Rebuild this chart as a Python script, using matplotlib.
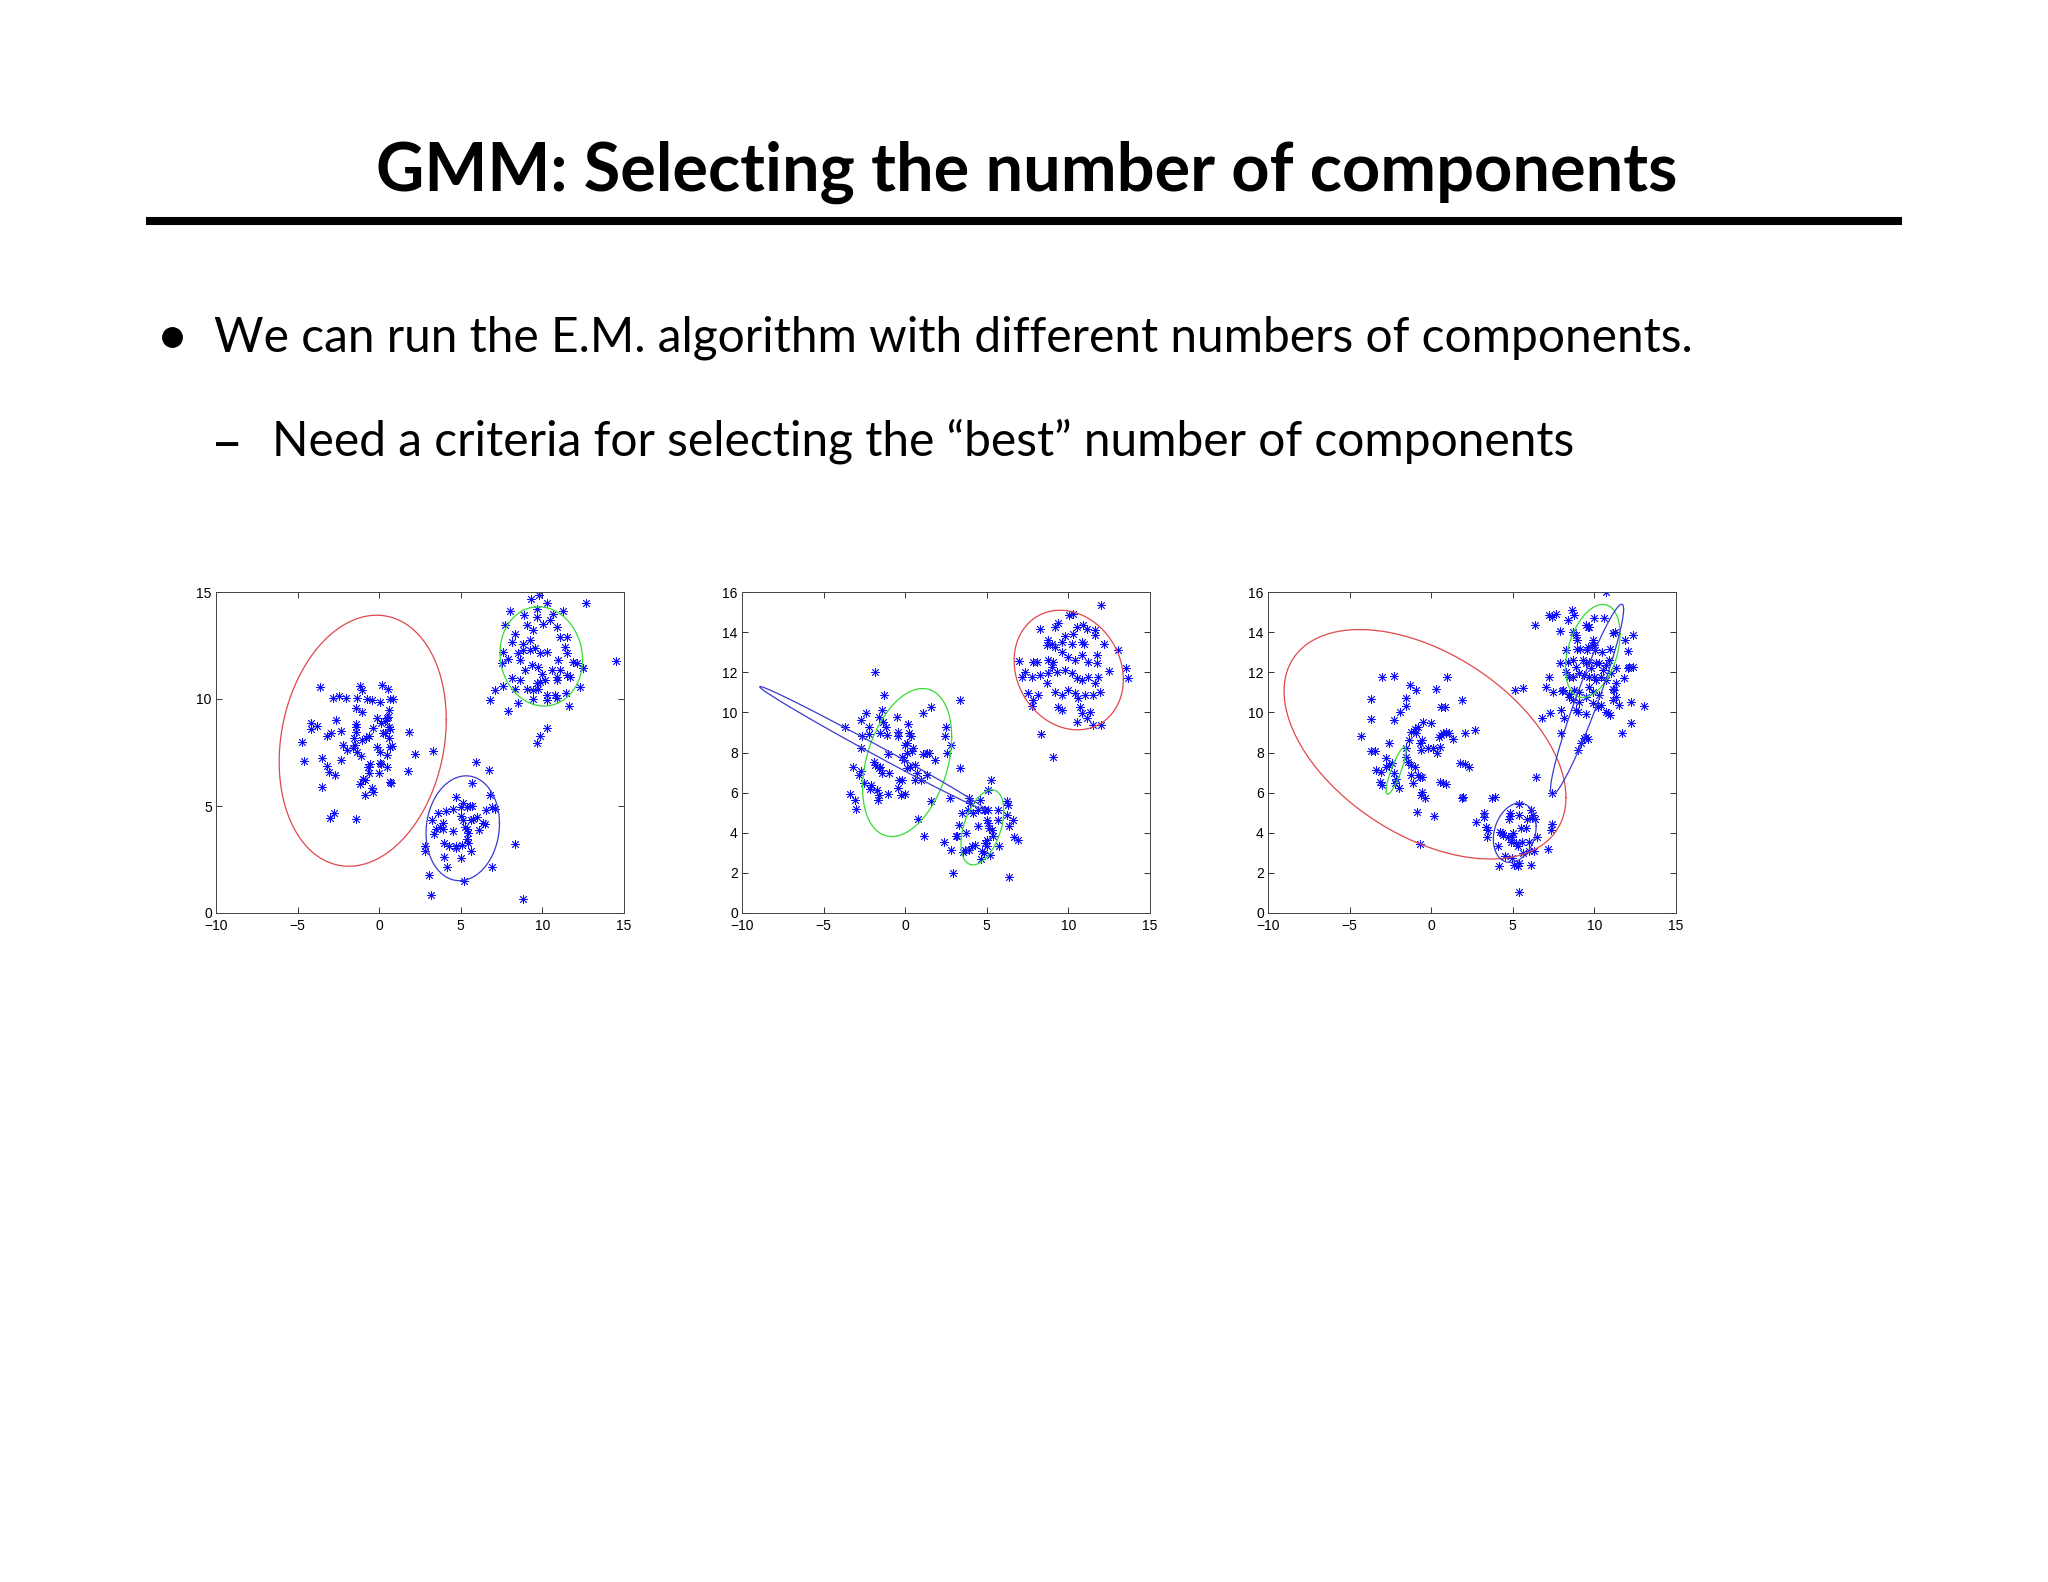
import numpy as np
import matplotlib
matplotlib.use('Agg')
import matplotlib.pyplot as plt

# ---------- texto de la diapositiva ----------
title = 'GMM: Selecting the number of components'
bullet_1 = 'We can run the E.M. algorithm with different numbers of components.'
bullet_2 = 'Need a criteria for selecting the \u201cbest\u201d number of components'

# ---------- panel 1 (k = 3) ----------
p1_x = [-3.63, -4.71, -4.61, -4.18, -3.83, -4.2, -3.53, -3.5, -3.2, -2.93, -3.18, -3.05, -2.69,
        -2.83, -2.44, -2.03, -2.65, -2.34, -2.34, -2.2, -2.0, -1.58, -1.54, -3.02, -2.77, -1.42,
        -1.18, -1.04, -1.38, -1.05, -1.42, -1.44, -1.44, -1.42, -0.77, -0.46, -1.48, -1.38, -1.12,
        -0.97, -0.87, -1.18, -0.87, -0.42, -0.4, -1.03, -0.81, -0.6, -0.4, -0.56, -0.67, -0.62,
        0.0, -0.16, 0.05, 0.05, 0.09, 0.05, 0.19, 0.52, 0.66, 0.58, 0.54, 0.5, 0.35, 0.09, -0.11,
        0.25, 0.36, 0.62, 0.66, 0.5, 0.58, 0.66, 0.8, 0.66, 0.74, 0.46, 0.85, 1.85, 1.74, 2.21, 3.28,
        # grupo inferior
        2.81, 2.81, 3.03, 3.17, 3.26, 3.38, 3.46, 3.62, 3.72, 3.88, 3.92, 4.08, 4.0, 4.26, 4.7,
        4.68, 5.09, 5.01, 5.62, 4.0, 4.17, 4.54, 4.68, 5.0, 5.11, 5.36, 5.56, 5.66, 4.54, 5.0,
        5.15, 5.26, 5.4, 5.6, 5.77, 6.01, 6.14, 6.38, 6.46, 5.36, 5.46, 5.46, 5.69, 5.91, 6.75,
        6.79, 6.89, 7.1, 6.52, 6.91, 5.2, 8.32, 8.79,
        # grupo superior derecho
        9.81, 9.28, 9.69, 10.3, 11.28, 12.65, 8.01, 7.73, 8.89, 8.32, 8.12, 7.61, 7.91, 7.5,
        9.04, 9.44, 9.24, 8.83, 8.83, 8.53, 8.63, 8.93, 9.34, 9.65, 10.06, 10.47, 10.67, 10.87,
        11.08, 11.48, 11.38, 11.48, 10.98, 11.89, 12.1, 12.5, 11.69, 11.48, 11.08, 10.57, 10.87,
        9.24, 9.55, 9.85, 10.26, 9.75, 9.95, 10.16, 9.65, 9.44, 9.75, 10.26, 10.77, 10.87, 9.85,
        8.12, 8.32, 8.63, 9.04, 7.61, 7.1, 6.79, 8.53, 7.91, 9.44, 10.26, 10.87, 11.45, 11.65,
        12.3, 12.5, 14.49, 10.3, 9.85, 9.65]
p1_y = [10.54, 8.0, 7.1, 8.9, 8.74, 8.6, 7.26, 5.9, 8.27, 8.43, 6.87, 6.6, 6.43,
        10.07, 10.12, 10.04, 9.0, 8.49, 7.13, 7.83, 7.6, 7.72, 8.18, 4.43, 4.69, 4.38,
        10.6, 10.44, 10.03, 9.4, 9.6, 8.83, 8.7, 8.45, 9.98, 9.95, 7.85, 7.54, 7.34,
        6.28, 6.22, 6.02, 5.53, 5.86, 5.67, 8.08, 8.16, 8.27, 8.66, 6.95, 6.84, 6.56,
        6.53, 7.77, 7.52, 7.0, 6.96, 9.87, 10.65, 10.45, 9.98, 9.48, 9.17, 9.1, 8.97, 8.86, 9.09,
        8.43, 8.39, 8.7, 8.58, 7.37, 8.16, 7.77, 7.8, 6.14, 6.06, 6.84, 10.01, 8.46, 6.64, 7.43, 7.55,
        3.11, 2.88, 1.76, 0.85, 4.35, 3.7, 3.92, 4.66, 4.04, 4.2, 3.93, 4.77, 3.26, 3.11, 3.02,
        3.11, 3.16, 2.58, 2.88, 2.64, 2.15, 4.87, 5.44, 4.97, 5.13, 4.97, 5.02, 5.02, 3.85, 4.51,
        4.35, 4.04, 3.92, 4.35, 4.38, 4.48, 3.89, 4.2, 4.17, 3.48, 3.73, 3.26, 6.09, 7.07, 6.68,
        5.52, 4.97, 4.85, 4.82, 2.15, 1.51, 3.23, 0.65,
        14.85, 14.66, 14.21, 14.49, 14.1, 14.49, 14.1, 13.45, 13.94, 13.06, 12.67, 12.2, 11.89, 11.69,
        13.45, 13.21, 12.75, 12.59, 12.28, 12.13, 11.81, 11.35, 11.58, 13.83, 13.52, 13.68, 13.99, 13.37,
        12.9, 12.9, 12.43, 12.13, 11.81, 11.74, 11.66, 11.43, 11.04, 11.12, 11.35, 11.35, 11.04,
        12.28, 12.36, 12.13, 12.2, 11.5, 11.19, 10.88, 10.73, 10.41, 10.49, 10.18, 10.18, 10.88, 10.8,
        10.96, 10.49, 10.88, 10.49, 10.6, 10.41, 9.95, 9.82, 9.45, 10.02, 9.95, 10.06, 10.26, 9.67,
        10.54, 11.43, 11.77, 8.63, 8.27, 7.93]

# ---------- panel 2 (k = 4) ----------
p2_x = [12.0, 10.04, 10.27, 9.39, 9.18, 8.27, 9.8, 10.31, 10.51, 10.92, 11.12, 11.63, 11.63,
        8.78, 8.67, 8.98, 9.18, 9.59, 10.2, 10.82, 10.98, 12.2, 13.02,
        6.98, 7.35, 7.86, 8.06, 8.78, 9.08, 9.59, 10.0, 10.41, 10.82, 11.22, 11.73, 11.73, 12.51, 13.53, 13.67,
        7.14, 7.76, 8.27, 8.78, 8.98, 9.29, 9.8, 10.2, 10.51, 10.82, 11.22, 11.84, 11.63,
        7.55, 7.86, 8.16, 8.71, 9.18, 9.59, 10.0, 10.41, 10.61, 11.02, 11.53, 11.94,
        7.76, 9.39, 9.59, 10.71, 10.82, 11.33, 10.51, 11.12, 11.53, 12.0, 8.31, 9.08,
        # grupo central
        -1.84, -1.27, -3.67, -2.41, -2.71, -2.24, -2.2, -2.65, -2.73, -1.63, -1.43, -1.33, -1.18,
        -1.12, -1.53, -0.51, -0.45, -0.45, 0.16, 0.24, 0.37, 0.14, -1.08, 0.0, -0.2, -0.1, 0.1,
        0.41, 0.47, -3.2, -3.37, -3.06, -2.71, -2.82, -2.51, -3.02, -1.94, -1.84, -1.63, -1.53,
        -1.43, -2.1, -1.73, -2.18, -1.63, -1.08, -1.67, -1.02, -0.47, -0.27, -0.04, -0.41, -0.2,
        0.1, 0.31, 0.61, 0.71, 0.98, 0.61, 1.12, 1.33, 1.43, 1.84, 1.33, 1.59, 0.78, 1.14,
        1.12, 1.59, 2.41, 2.49, 2.55, 2.82, 2.76, 3.33, 3.33,
        # grupo inferior
        2.37, 2.78, 2.9, 3.1, 3.27, 3.16, 3.71, 3.82, 3.47, 3.88, 3.98, 4.18, 4.49, 4.59, 4.8,
        4.9, 5.1, 5.24, 5.1, 3.67, 4.08, 4.29, 4.45, 4.69, 4.9, 5.0, 5.1, 5.14, 5.31, 5.41, 5.0,
        5.04, 5.2, 4.65, 4.8, 3.88, 3.57, 5.71, 5.71, 5.76, 6.22, 6.29, 6.22, 6.33, 6.59, 6.69,
        6.94, 6.33]
p2_y = [15.34, 14.87, 14.92, 14.43, 14.26, 14.18, 13.8, 13.93, 14.26, 14.34, 14.18, 14.1, 13.85,
        13.6, 13.35, 13.43, 13.27, 13.52, 13.43, 13.52, 13.43, 13.43, 13.1,
        12.55, 12.02, 12.52, 12.52, 12.6, 12.52, 13.02, 12.77, 12.6, 12.85, 12.52, 12.85, 12.44, 12.07, 12.19, 11.69,
        11.78, 11.78, 11.86, 11.94, 12.27, 12.02, 12.11, 11.94, 11.69, 11.61, 11.78, 11.78, 11.45,
        10.95, 10.62, 10.87, 11.45, 11.03, 10.87, 11.11, 10.95, 10.7, 10.87, 10.87, 11.03,
        10.32, 10.29, 10.12, 10.29, 9.95, 10.04, 9.54, 9.71, 9.37, 9.37, 8.91, 7.8,
        12.02, 10.87, 9.29, 9.95, 9.62, 9.29, 8.93, 8.8, 8.22, 9.79, 10.12, 9.54, 9.29,
        8.88, 8.96, 9.75, 9.0, 8.8, 9.42, 8.96, 8.8, 8.46, 7.93, 8.38, 7.8, 7.64, 7.97,
        8.05, 8.22, 7.27, 5.95, 5.62, 7.06, 6.89, 6.48, 5.18, 7.55, 7.39, 7.22, 7.3,
        6.97, 6.39, 6.11, 6.18, 5.88, 5.95, 5.62, 6.97, 6.23, 5.9, 5.93, 6.64, 6.64,
        7.22, 7.3, 7.39, 6.97, 6.64, 6.64, 7.93, 7.97, 8.0, 7.64, 6.89, 5.57, 4.7, 3.83,
        9.95, 10.29, 8.8, 9.29, 7.97, 8.38, 5.73, 10.62, 7.25,
        3.56, 3.13, 1.97, 3.86, 4.41, 3.83, 3.99, 5.15, 4.98, 5.73, 5.48, 4.98, 5.15, 5.65, 5.15,
        5.15, 5.15, 6.64, 6.14, 3.16, 3.33, 3.41, 4.32, 3.08, 3.49, 4.65, 4.49, 4.24, 4.16, 3.83, 3.66,
        3.33, 2.87, 2.67, 3.0, 3.13, 3.03, 5.12, 4.65, 3.33, 5.57, 5.4, 4.9, 4.32, 4.65, 3.78,
        3.66, 1.8]

# ---------- panel 3 (k = 5) ----------
p3_x = [-4.29, -3.71, -3.71, -3.71, -3.47, -3.41, -3.16, -3.0, -3.06, -3.0, -2.31, -2.31,
        -2.76, -2.61, -2.76, -2.59, -2.43, -2.31, -2.14, -2.24, -1.98, -1.9, -1.53, -1.53, -1.27,
        -0.96, -1.37, -1.53, -1.43, -1.22, -1.02, -1.53, -1.22, -1.02, -0.92, -0.82, -0.51, -0.71,
        -0.55, -0.61, -1.22, -0.82, -0.71, -0.57, -1.12, -0.55, -0.61, -0.41, -0.86, -0.71,
        -0.2, -0.04, 0.1, 0.31, 0.35, 0.51, 0.57, 0.82, 0.2, 0.47, 0.61, 0.71, 0.92, 1.12, 1.33,
        0.92, 0.51, 0.71, 0.92, 0.96, 1.9, 1.9, 1.94, 2.08, 1.78, 2.1, 2.31, 2.71,
        # grupo inferior
        2.76, 3.22, 3.22, 3.37, 3.41, 3.71, 3.92, 3.47, 4.08, 4.18, 4.24, 4.33, 4.39, 4.53, 4.69,
        4.76, 4.8, 4.84, 4.94, 4.9, 5.0, 5.2, 5.31, 4.96, 5.1, 5.31, 5.41, 5.61, 5.51, 5.82, 5.88,
        5.41, 5.37, 5.57, 5.98, 6.02, 6.12, 6.18, 6.22, 6.33, 6.12, 6.29, 6.49, 7.14, 7.35, 7.39,
        6.43, 5.41, 7.41,
        # grupo superior derecho
        10.71, 7.24, 7.41, 7.65, 8.61, 8.73, 8.37, 6.33, 7.9, 8.27, 8.67, 8.88, 8.92, 9.49, 9.59,
        9.69, 10.0, 10.61, 9.9, 10.0, 8.92, 9.12, 9.53, 9.63, 9.84, 10.04, 10.45, 10.96, 11.16,
        11.27, 11.88, 12.08, 12.39, 8.37, 8.67, 8.88, 9.29, 9.49, 9.69, 9.8, 10.1, 10.31, 10.51,
        10.71, 10.92, 11.02, 11.33, 7.9, 7.24, 8.27, 8.47, 8.67, 9.08, 9.39, 9.69, 10.0, 10.1,
        10.41, 10.71, 7.04, 7.45, 8.06, 8.47, 8.78, 9.08, 9.69, 9.9, 10.31, 11.12, 11.22, 11.33,
        11.84, 12.04, 12.14, 12.35, 5.16, 5.65, 8.02, 8.47, 8.67, 9.08, 9.49, 9.9, 10.2, 10.41,
        10.71, 10.82, 10.96, 11.53, 11.12, 11.33, 6.8, 7.29, 7.96, 8.16, 7.96, 8.88, 8.98, 9.49,
        9.39, 9.49, 9.59, 9.18, 8.98, 11.69, 12.24, 12.24, 13.02]
p3_y = [8.82, 10.69, 9.65, 8.07, 8.09, 7.13, 6.55, 6.38, 7.05, 11.74, 11.81, 9.62,
        7.71, 8.46, 7.3, 7.38, 7.49, 6.96, 6.67, 6.5, 6.25, 10.03, 10.74, 10.31, 11.36,
        11.14, 8.62, 8.21, 7.54, 7.38, 7.26, 7.76, 9.04, 9.15, 8.95, 9.29, 9.53, 8.46,
        8.62, 8.12, 6.88, 6.88, 6.8, 6.8, 6.47, 6.05, 5.89, 5.72, 5.02, 3.43,
        8.21, 9.48, 8.21, 11.19, 7.96, 8.29, 10.25, 10.25, 4.81, 8.79, 8.87, 8.95, 8.99, 8.95, 8.67,
        9.04, 6.55, 6.47, 6.43, 11.77, 10.61, 5.72, 5.8, 8.99, 7.49, 7.43, 7.3, 9.12,
        4.56, 4.97, 4.78, 4.31, 3.78, 5.72, 5.77, 4.15, 3.32, 2.32, 4.06, 3.98, 3.9, 2.82, 3.81,
        4.68, 4.81, 4.97, 3.81, 3.56, 3.98, 3.48, 3.32, 2.74, 2.4, 2.32, 2.49, 2.98, 4.23, 4.23, 4.68,
        5.44, 4.89, 3.56, 3.56, 3.07, 5.14, 4.73, 4.89, 4.68, 2.4, 3.07, 3.81, 3.18, 4.15, 4.44,
        6.8, 1.04, 5.97,
        16.0, 14.84, 14.76, 14.92, 15.12, 14.87, 14.59, 14.34, 14.04, 13.13, 14.01, 13.85, 13.6, 14.34, 14.26,
        14.26, 14.71, 14.71, 13.6, 13.35, 13.18, 13.18, 13.1, 13.27, 13.35, 13.1, 13.02, 13.18, 13.96,
        14.01, 13.6, 13.05, 13.88, 12.52, 12.6, 12.27, 12.6, 12.44, 12.52, 12.19, 12.44, 12.44, 12.1,
        12.35, 12.6, 11.94, 12.19, 12.44, 11.77, 12.02, 11.77, 11.77, 11.94, 11.86, 11.77, 11.77, 11.61,
        11.77, 11.61, 11.27, 11.03, 11.11, 10.94, 11.11, 11.03, 11.27, 11.03, 10.86, 11.19, 11.11, 11.44,
        11.69, 12.19, 12.27, 12.27, 11.11, 11.23, 11.06, 10.78, 10.61, 10.53, 10.78, 10.45, 10.28, 10.36,
        10.03, 9.95, 9.87, 10.36, 10.61, 10.78, 9.73, 9.98, 10.11, 9.7, 8.99, 10.11, 10.03, 9.9,
        8.71, 8.79, 8.67, 8.46, 8.12, 8.99, 9.45, 10.53, 10.31]

# ---------- elipses: centro y matriz de forma de cada componente ----------
p1_centers = [(-1.01, 8.05), (9.93, 11.99), (5.12, 3.96)]
p1_shapes = [[[26.2, 5.0], [5.0, 34.4]], [[6.4, -0.4], [-0.4, 5.38]], [[5.06, 0.5], [0.5, 6.0]]]
p1_colors = ['#e0474c', '#33dd33', '#3a3ad0']

p2_centers = [(10.02, 12.11), (0.12, 7.5), (4.73, 4.27), (-2.01, 8.22)]
p2_shapes = [[[11.2, -1.58], [-1.58, 8.88]], [[7.45, 3.47], [3.47, 13.6]],
             [[1.72, 1.08], [1.08, 3.5]], [[47.7, -21.11], [-21.11, 9.42]]]
p2_colors = ['#e0474c', '#33dd33', '#33dd33', '#3a3ad0']

p3_centers = [(-0.38, 8.41), (-2.15, 7.1), (9.9, 13.06), (9.55, 10.64), (5.12, 4.0)]
p3_shapes = [[[74.6, -22.9], [-22.9, 32.7]], [[0.37, 0.61], [0.61, 1.39]],
             [[2.79, 1.42], [1.42, 5.38]], [[5.02, 10.07], [10.07, 22.56]],
             [[1.72, 0.43], [0.43, 2.19]]]
p3_colors = ['#e0474c', '#33dd33', '#33dd33', '#3a3ad0', '#3a3ad0']


def draw_ellipse(ax, center, shape, color):
    ''' Dibuja el contorno de una elipse a partir de su centro y matriz de forma. '''
    L = np.linalg.cholesky(np.array(shape))
    t = np.linspace(0, 2 * np.pi, 300)
    pts = L @ np.vstack([np.cos(t), np.sin(t)])
    ax.plot(center[0] + pts[0], center[1] + pts[1], color=color, lw=0.9)


def draw_panel(rect, xs, ys, centers, shapes, colors, ymax, ystep):
    ax = fig.add_axes(rect)
    ax.plot(xs, ys, linestyle='none', marker=(8, 2, 0), markersize=6.2,
            markeredgewidth=0.6, color='#1010ff')
    for c, s, col in zip(centers, shapes, colors):
        draw_ellipse(ax, c, s, col)
    ax.set_xlim(-10, 15)
    ax.set_ylim(0, ymax)
    ax.set_xticks(np.arange(-10, 16, 5))
    ax.set_yticks(np.arange(0, ymax + 1, ystep))
    ax.tick_params(direction='in', top=True, right=True, length=4, width=0.7,
                   labelsize=10, colors='#333333', labelcolor='black')
    ax.tick_params(axis='x', pad=4.5)
    ax.tick_params(axis='y', pad=3)
    for sp in ax.spines.values():
        sp.set_linewidth(0.7)
        sp.set_color('#444444')
    return ax


plt.rcParams['font.family'] = ['Liberation Sans', 'DejaVu Sans']
fig = plt.figure(figsize=(20.48, 15.82), dpi=100)
W, H = 2048, 1582

# Título y regla
fig.text(376 / W, 1 - 191 / H, title, ha='left', va='baseline',
         fontsize=48, fontweight='bold', family='Lato')
fig.add_artist(plt.Line2D([146 / W, 1902 / W], [1 - 221.3 / H] * 2, color='black', lw=5.8,
                          solid_capstyle='butt'))

# Viñetas
fig.add_artist(plt.Line2D([172 / W], [1 - 337 / H], marker='o', markersize=14,
                          color='black', linestyle='none'))
fig.text(214 / W, 1 - 351 / H, bullet_1, ha='left', va='baseline', fontsize=34.5, family='Lato')
fig.text(227.5 / W, 1 - 440 / H, '\u2013', ha='center', va='center_baseline', fontsize=40,
         family='Lato')
fig.text(271.5 / W, 1 - 456 / H, bullet_2, ha='left', va='baseline', fontsize=34.5, family='Lato')

# Paneles
bottom = 1 - 913 / H
h = 321 / H
w = 408 / W
draw_panel([216 / W, bottom, w, h], p1_x, p1_y, p1_centers, p1_shapes, p1_colors, 15, 5)
draw_panel([742 / W, bottom, w, h], p2_x, p2_y, p2_centers, p2_shapes, p2_colors, 16, 2)
draw_panel([1268 / W, bottom, w, h], p3_x, p3_y, p3_centers, p3_shapes, p3_colors, 16, 2)

fig.savefig('out.png', dpi=100, facecolor='white')
